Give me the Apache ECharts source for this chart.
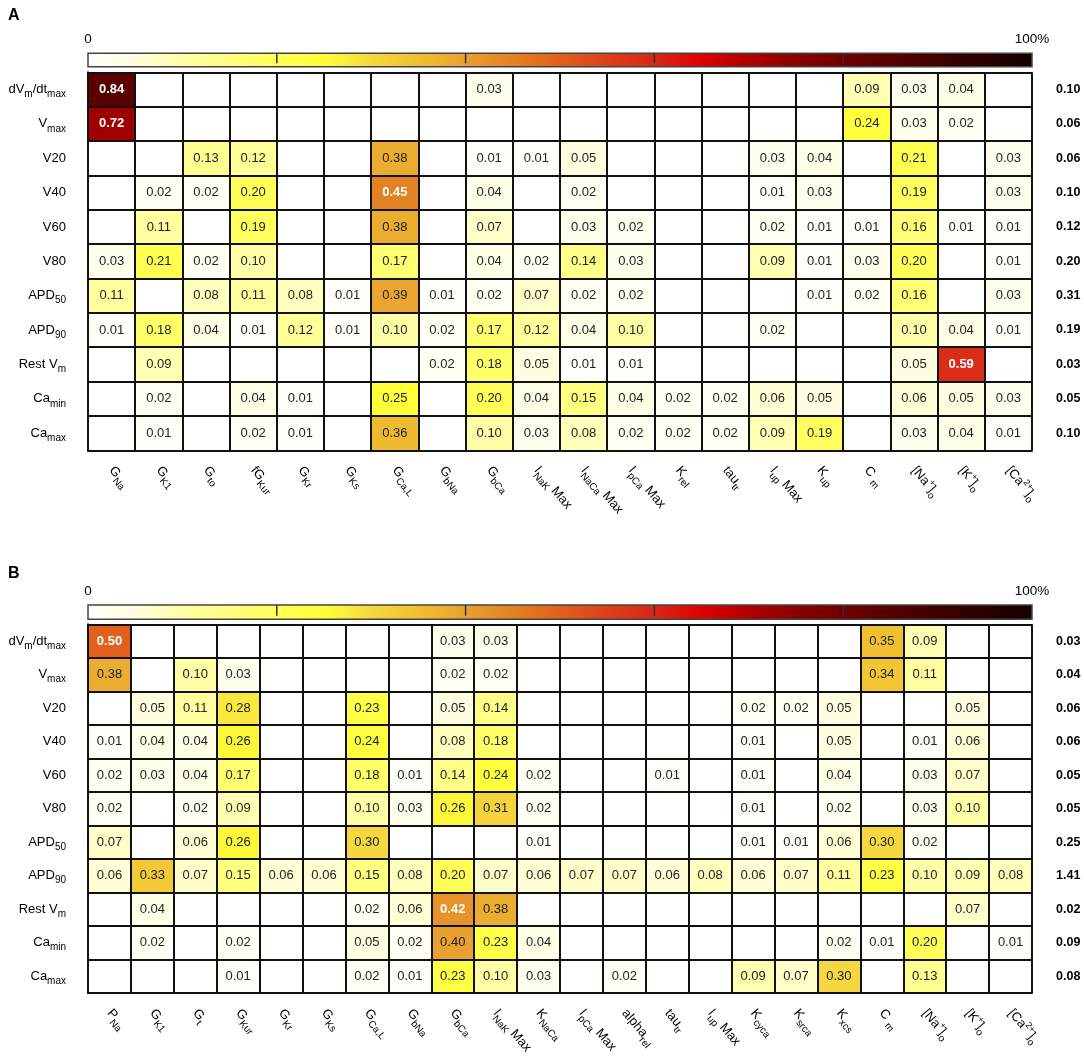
<!DOCTYPE html>
<html>
<head>
<meta charset="utf-8">
<script src="https://cdn.jsdelivr.net/npm/echarts@6/dist/echarts.min.js"></script>
<style>
  html, body { margin: 0; padding: 0; background: #fff; }
  #chart { width: 1084px; height: 1059px; }
</style>
</head>
<body>
<div id="chart"></div>
<script>
const n = null;

// 행 라벨 (두 패널 공통)
const rowLabels = [
  '{m|dV}{s|m}{m|/dt}{s|max}', '{m|V}{s|max}', 'V20', 'V40', 'V60', 'V80',
  '{m|APD}{s|50}', '{m|APD}{s|90}', '{m|Rest V}{s|m}', '{m|Ca}{s|min}', '{m|Ca}{s|max}'
];

// 패널 A
const colsA = [
  '{m|G}{s|Na}', '{m|G}{s|K1}', '{m|G}{s|to}', '{m|fG}{s|Kur}', '{m|G}{s|Kr}', '{m|G}{s|Ks}',
  '{m|G}{s|Ca,L}', '{m|G}{s|bNa}', '{m|G}{s|bCa}', '{m|I}{s|NaK}{m| Max}', '{m|I}{s|NaCa}{m| Max}',
  '{m|I}{s|pCa}{m| Max}', '{m|K}{s|rel}', '{m|tau}{s|tr}', '{m|I}{s|up}{m| Max}', '{m|K}{s|up}',
  '{m|C }{s|m}', '{m|[Na}{p|+}{m|]}{s|o}', '{m|[K}{p|+}{m|]}{s|o}', '{m|[Ca}{p|2+}{m|]}{s|o}'
];
const valuesA = [
  [0.84, n, n, n, n, n, n, n, 0.03, n, n, n, n, n, n, n, 0.09, 0.03, 0.04, n],
  [0.72, n, n, n, n, n, n, n, n, n, n, n, n, n, n, n, 0.24, 0.03, 0.02, n],
  [n, n, 0.13, 0.12, n, n, 0.38, n, 0.01, 0.01, 0.05, n, n, n, 0.03, 0.04, n, 0.21, n, 0.03],
  [n, 0.02, 0.02, 0.20, n, n, 0.45, n, 0.04, n, 0.02, n, n, n, 0.01, 0.03, n, 0.19, n, 0.03],
  [n, 0.11, n, 0.19, n, n, 0.38, n, 0.07, n, 0.03, 0.02, n, n, 0.02, 0.01, 0.01, 0.16, 0.01, 0.01],
  [0.03, 0.21, 0.02, 0.10, n, n, 0.17, n, 0.04, 0.02, 0.14, 0.03, n, n, 0.09, 0.01, 0.03, 0.20, n, 0.01],
  [0.11, n, 0.08, 0.11, 0.08, 0.01, 0.39, 0.01, 0.02, 0.07, 0.02, 0.02, n, n, n, 0.01, 0.02, 0.16, n, 0.03],
  [0.01, 0.18, 0.04, 0.01, 0.12, 0.01, 0.10, 0.02, 0.17, 0.12, 0.04, 0.10, n, n, 0.02, n, n, 0.10, 0.04, 0.01],
  [n, 0.09, n, n, n, n, n, 0.02, 0.18, 0.05, 0.01, 0.01, n, n, n, n, n, 0.05, 0.59, n],
  [n, 0.02, n, 0.04, 0.01, n, 0.25, n, 0.20, 0.04, 0.15, 0.04, 0.02, 0.02, 0.06, 0.05, n, 0.06, 0.05, 0.03],
  [n, 0.01, n, 0.02, 0.01, n, 0.36, n, 0.10, 0.03, 0.08, 0.02, 0.02, 0.02, 0.09, 0.19, n, 0.03, 0.04, 0.01]
];
const totalsA = ['0.10', '0.06', '0.06', '0.10', '0.12', '0.20', '0.31', '0.19', '0.03', '0.05', '0.10'];

// 패널 B
const colsB = [
  '{m|P}{s|Na}', '{m|G}{s|K1}', '{m|G}{s|t}', '{m|G}{s|Kur}', '{m|G}{s|Kr}', '{m|G}{s|Ks}',
  '{m|G}{s|Ca,L}', '{m|G}{s|bNa}', '{m|G}{s|bCa}', '{m|I}{s|NaK}{m| Max}', '{m|K}{s|NaCa}',
  '{m|I}{s|pCa}{m| Max}', '{m|alpha}{s|rel}', '{m|tau}{s|tr}', '{m|I}{s|up}{m| Max}', '{m|K}{s|cyca}',
  '{m|K}{s|srca}', '{m|K}{s|xcs}', '{m|C }{s|m}', '{m|[Na}{p|+}{m|]}{s|o}', '{m|[K}{p|+}{m|]}{s|o}',
  '{m|[Ca}{p|2+}{m|]}{s|o}'
];
const valuesB = [
  [0.50, n, n, n, n, n, n, n, 0.03, 0.03, n, n, n, n, n, n, n, n, 0.35, 0.09, n, n],
  [0.38, n, 0.10, 0.03, n, n, n, n, 0.02, 0.02, n, n, n, n, n, n, n, n, 0.34, 0.11, n, n],
  [n, 0.05, 0.11, 0.28, n, n, 0.23, n, 0.05, 0.14, n, n, n, n, n, 0.02, 0.02, 0.05, n, n, 0.05, n],
  [0.01, 0.04, 0.04, 0.26, n, n, 0.24, n, 0.08, 0.18, n, n, n, n, n, 0.01, n, 0.05, n, 0.01, 0.06, n],
  [0.02, 0.03, 0.04, 0.17, n, n, 0.18, 0.01, 0.14, 0.24, 0.02, n, n, 0.01, n, 0.01, n, 0.04, n, 0.03, 0.07, n],
  [0.02, n, 0.02, 0.09, n, n, 0.10, 0.03, 0.26, 0.31, 0.02, n, n, n, n, 0.01, n, 0.02, n, 0.03, 0.10, n],
  [0.07, n, 0.06, 0.26, n, n, 0.30, n, n, n, 0.01, n, n, n, n, 0.01, 0.01, 0.06, 0.30, 0.02, n, n],
  [0.06, 0.33, 0.07, 0.15, 0.06, 0.06, 0.15, 0.08, 0.20, 0.07, 0.06, 0.07, 0.07, 0.06, 0.08, 0.06, 0.07, 0.11, 0.23, 0.10, 0.09, 0.08],
  [n, 0.04, n, n, n, n, 0.02, 0.06, 0.42, 0.38, n, n, n, n, n, n, n, n, n, n, 0.07, n],
  [n, 0.02, n, 0.02, n, n, 0.05, 0.02, 0.40, 0.23, 0.04, n, n, n, n, n, n, 0.02, 0.01, 0.20, n, 0.01],
  [n, n, n, 0.01, n, n, 0.02, 0.01, 0.23, 0.10, 0.03, n, 0.02, n, n, 0.09, 0.07, 0.30, n, 0.13, n, n]
];
const totalsB = ['0.03', '0.04', '0.06', '0.06', '0.05', '0.05', '0.25', '1.41', '0.02', '0.09', '0.08'];

// 컬러맵 (0 ~ 100%, 5% 간격)
const heatColors = [
  '#ffffff', '#fffee0', '#ffffa8', '#ffff80', '#ffff58', '#ffff38', '#f5d840',
  '#f0c030', '#e8a030', '#e38222', '#e0601c', '#dc4018', '#d82818', '#dd0000',
  '#b00000', '#8a0000', '#6e0000', '#560000', '#400000', '#2a0000', '#150000'
];
const barTicks = [0.2, 0.4, 0.6, 0.8];

const FONT = "'Liberation Sans', Helvetica, Arial, sans-serif";
const GRID_LEFT = 88, GRID_W = 944, GRID_H = 378;
const panelTops = [72.3, 624.3];

const richSub = {
  m: { fontSize: 13, fontFamily: FONT, color: '#000' },
  s: { fontSize: 10, fontFamily: FONT, color: '#000', padding: [10, 0, 0, 0] },
  p: { fontSize: 9, fontFamily: FONT, color: '#000', padding: [0, 0, 9, 0] }
};

function buildData(values) {
  const out = [];
  values.forEach((row, r) => {
    row.forEach((v, c) => {
      if (v == null) return;
      const light = v >= 0.41;
      out.push({
        value: [c, r, v],
        label: { color: light ? '#fff' : '#222', fontWeight: light ? 'bold' : 'normal' }
      });
    });
  });
  return out;
}

// 컬러바 (그라데이션 + 눈금 + 양끝 라벨)
function colorbar(top, h) {
  const stops = heatColors.map((c, i) => ({ offset: i / (heatColors.length - 1), color: c }));
  const els = [{
    type: 'rect',
    shape: { x: GRID_LEFT, y: top, width: GRID_W, height: h },
    style: {
      fill: { type: 'linear', x: 0, y: 0, x2: 1, y2: 0, colorStops: stops },
      stroke: '#444', lineWidth: 1.5
    }
  }];
  barTicks.forEach(t => {
    const x = GRID_LEFT + GRID_W * t;
    els.push({
      type: 'line',
      shape: { x1: x, y1: top, x2: x, y2: top + h * 0.75 },
      style: { stroke: '#333', lineWidth: 1.5 }
    });
  });
  els.push({
    type: 'text',
    style: { text: '0', x: GRID_LEFT, y: top - 14, align: 'center', verticalAlign: 'middle',
      font: '13.5px ' + FONT, fill: '#000' }
  });
  els.push({
    type: 'text',
    style: { text: '100%', x: GRID_LEFT + GRID_W, y: top - 14, align: 'center', verticalAlign: 'middle',
      font: '13.5px ' + FONT, fill: '#000' }
  });
  return els;
}

const panels = [
  { cols: colsA, values: valuesA, totals: totalsA },
  { cols: colsB, values: valuesB, totals: totalsB }
];

const lineStyle = { color: '#111', width: 2 };

const option = {
  backgroundColor: '#fff',
  animation: false,
  textStyle: { fontFamily: FONT },
  grid: panelTops.map(t => ({ left: GRID_LEFT, top: t, width: GRID_W, height: GRID_H })),
  xAxis: panels.map((p, i) => ({
    type: 'category',
    gridIndex: i,
    data: p.cols,
    z: 5,
    axisLine: { show: true, lineStyle },
    axisTick: { show: false },
    splitLine: { show: true, interval: 0, lineStyle },
    axisLabel: {
      interval: 0, rotate: -50, margin: 18,
      formatter: v => v, rich: richSub,
      fontSize: 13, color: '#000'
    }
  })),
  yAxis: panels.flatMap((p, i) => [
    {
      type: 'category',
      gridIndex: i,
      data: rowLabels,
      inverse: true,
      z: 5,
      axisLine: { show: true, lineStyle },
      axisTick: { show: false },
      splitLine: { show: true, interval: 0, lineStyle },
      axisLabel: { interval: 0, margin: 22, formatter: v => v, rich: richSub, fontSize: 13, color: '#000' }
    },
    {
      type: 'category',
      gridIndex: i,
      position: 'right',
      data: p.totals,
      inverse: true,
      axisLine: { show: false },
      axisTick: { show: false },
      splitLine: { show: false },
      axisLabel: { interval: 0, margin: 24, fontSize: 12.5, fontWeight: 'bold', color: '#000' }
    }
  ]),
  visualMap: {
    type: 'continuous',
    show: false,
    min: 0,
    max: 1,
    dimension: 2,
    seriesIndex: [0, 1],
    inRange: { color: heatColors }
  },
  series: panels.map((p, i) => ({
    type: 'heatmap',
    xAxisIndex: i,
    yAxisIndex: i * 2,
    data: buildData(p.values),
    emphasis: { disabled: true },
    label: {
      show: true,
      fontSize: 13,
      fontFamily: FONT,
      formatter: prm => prm.value[2].toFixed(2)
    }
  })),
  graphic: [
    { type: 'text', style: { text: 'A', x: 8, y: 16, verticalAlign: 'middle', font: 'bold 16px ' + FONT, fill: '#000' } },
    { type: 'text', style: { text: 'B', x: 8, y: 574, verticalAlign: 'middle', font: 'bold 16px ' + FONT, fill: '#000' } },
    ...colorbar(53.3, 13.4),
    ...colorbar(605, 14.3)
  ]
};

const myChart = echarts.init(document.getElementById('chart'), null, { renderer: 'canvas' });
myChart.setOption(option);
window.addEventListener('resize', myChart.resize);
</script>
</body>
</html>
